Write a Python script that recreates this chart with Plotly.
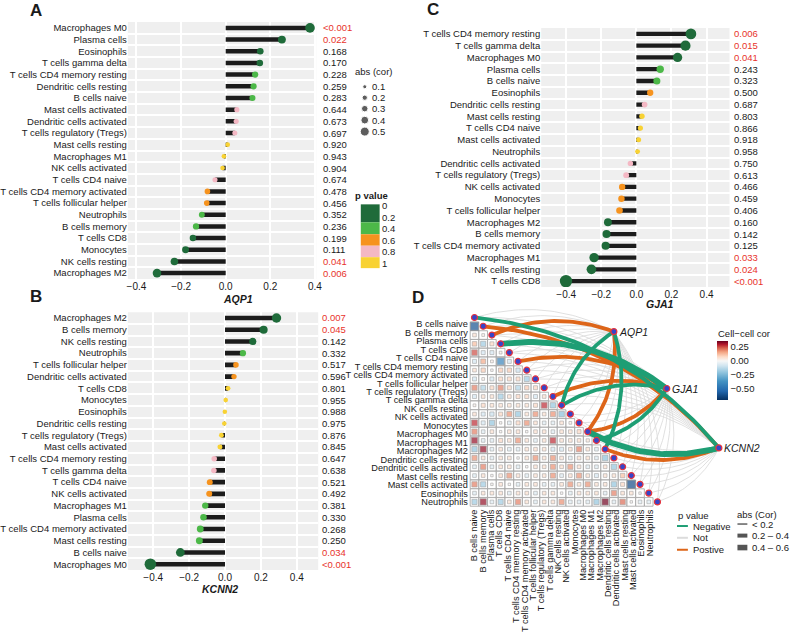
import plotly.graph_objects as go
import numpy as np

W, H = 794, 632

# ---------------- data ----------------
names_A = ["Macrophages M0", "Plasma cells", "Eosinophils", "T cells gamma delta",
           "T cells CD4 memory resting", "Dendritic cells resting", "B cells naive",
           "Mast cells activated", "Dendritic cells activated", "T cells regulatory (Tregs)",
           "Mast cells resting", "Macrophages M1", "NK cells activated", "T cells CD4 naive",
           "T cells CD4 memory activated", "T cells follicular helper", "Neutrophils",
           "B cells memory", "T cells CD8", "Monocytes", "NK cells resting", "Macrophages M2"]
cor_A = [0.378, 0.252, 0.155, 0.153, 0.132, 0.125, 0.120, 0.050, 0.047, 0.041, 0.009,
         -0.008, -0.014, -0.048, -0.082, -0.085, -0.107, -0.133, -0.147, -0.180, -0.230, -0.308]
p_A = ["<0.001", "0.022", "0.168", "0.170", "0.228", "0.259", "0.283", "0.644", "0.673",
       "0.697", "0.920", "0.943", "0.904", "0.674", "0.478", "0.456", "0.352", "0.236",
       "0.199", "0.111", "0.041", "0.006"]

names_B = ["Macrophages M2", "B cells memory", "NK cells resting", "Neutrophils",
           "T cells follicular helper", "Dendritic cells activated", "T cells CD8", "Monocytes",
           "Eosinophils", "Dendritic cells resting", "T cells regulatory (Tregs)",
           "Mast cells activated", "T cells CD4 memory resting", "T cells gamma delta",
           "T cells CD4 naive", "NK cells activated", "Macrophages M1", "Plasma cells",
           "T cells CD4 memory activated", "Mast cells resting", "B cells naive", "Macrophages M0"]
cor_B = [0.287, 0.215, 0.155, 0.100, 0.061, 0.050, 0.017, 0.004, -0.001, -0.004, -0.020,
         -0.028, -0.060, -0.062, -0.085, -0.088, -0.110, -0.120, -0.138, -0.143, -0.249, -0.416]
p_B = ["0.007", "0.045", "0.142", "0.332", "0.517", "0.596", "0.801", "0.955", "0.988",
       "0.975", "0.876", "0.845", "0.647", "0.638", "0.521", "0.492", "0.381", "0.330",
       "0.268", "0.250", "0.034", "<0.001"]

names_C = ["T cells CD4 memory resting", "T cells gamma delta", "Macrophages M0", "Plasma cells",
           "B cells naive", "Eosinophils", "Dendritic cells resting", "Mast cells resting",
           "T cells CD4 naive", "Mast cells activated", "Neutrophils", "Dendritic cells activated",
           "T cells regulatory (Tregs)", "NK cells activated", "Monocytes",
           "T cells follicular helper", "Macrophages M2", "B cells memory",
           "T cells CD4 memory activated", "Macrophages M1", "NK cells resting", "T cells CD8"]
cor_C = [0.311, 0.280, 0.235, 0.136, 0.117, 0.079, 0.047, 0.032, 0.023, 0.013, 0.007,
         -0.034, -0.058, -0.081, -0.085, -0.096, -0.162, -0.170, -0.175, -0.241, -0.256, -0.401]
p_C = ["0.006", "0.015", "0.041", "0.243", "0.323", "0.500", "0.687", "0.803", "0.866",
       "0.918", "0.958", "0.750", "0.613", "0.466", "0.459", "0.406", "0.160", "0.142",
       "0.125", "0.033", "0.024", "<0.001"]

cell_types = ["B cells naive", "B cells memory", "Plasma cells", "T cells CD8", "T cells CD4 naive",
              "T cells CD4 memory resting", "T cells CD4 memory activated",
              "T cells follicular helper", "T cells regulatory (Tregs)", "T cells gamma delta",
              "NK cells resting", "NK cells activated", "Monocytes", "Macrophages M0",
              "Macrophages M1", "Macrophages M2", "Dendritic cells resting",
              "Dendritic cells activated", "Mast cells resting", "Mast cells activated",
              "Eosinophils", "Neutrophils"]

# lower-triangle cell-cell correlation (row r has r+1 values)
cellcor_rows = [
    [-0.60],
    [0.06, 0.02],
    [0.12, -0.18, 0.08],
    [0.25, -0.08, -0.08, 0.02],
    [-0.08, 0.15, 0.02, -0.42, -0.08],
    [0.06, 0.10, 0.01, 0.10, 0.10, -0.10],
    [-0.08, 0.02, -0.08, 0.08, 0.08, 0.08, -0.18],
    [0.20, -0.15, 0.08, 0.20, 0.08, -0.15, 0.10, 0.08],
    [-0.08, 0.06, 0.06, -0.18, 0.06, 0.08, 0.08, -0.08, 0.06],
    [0.02, 0.08, 0.06, 0.06, 0.06, 0.06, 0.06, 0.08, 0.28, -0.20],
    [0.06, -0.08, -0.10, 0.08, 0.18, -0.20, 0.06, 0.18, 0.06, 0.18, -0.22],
    [0.28, -0.08, -0.20, 0.01, -0.06, 0.08, 0.18, 0.06, -0.06, -0.06, 0.06, 0.02],
    [0.20, -0.06, 0.06, 0.01, 0.06, 0.06, 0.01, 0.06, 0.06, -0.06, 0.06, 0.06, 0.08],
    [0.32, -0.06, -0.06, 0.08, 0.06, 0.18, 0.06, -0.06, 0.06, 0.28, 0.06, 0.06, 0.06, 0.04],
    [-0.20, 0.32, -0.06, 0.06, -0.06, -0.06, 0.06, 0.06, 0.06, -0.08, -0.08, 0.06, 0.20, 0.06, -0.06],
    [0.18, 0.06, -0.06, 0.06, 0.06, 0.01, 0.06, 0.18, 0.06, 0.18, 0.06, -0.06, 0.06, 0.06, -0.06, -0.22],
    [-0.06, 0.20, -0.06, 0.06, 0.06, -0.06, 0.01, 0.06, 0.06, 0.18, 0.06, 0.18, 0.06, -0.06, -0.06, 0.06, -0.20],
    [-0.06, 0.06, 0.01, 0.06, 0.18, 0.06, -0.06, 0.06, 0.06, 0.18, -0.06, 0.06, 0.18, 0.06, -0.08, 0.06, 0.06, 0.12],
    [0.20, -0.18, 0.01, 0.06, 0.01, -0.06, 0.06, 0.06, -0.06, -0.06, 0.06, 0.18, 0.06, 0.18, 0.06, 0.06, -0.20, 0.08, -0.62],
    [-0.06, 0.06, 0.06, 0.06, -0.06, 0.06, 0.06, -0.06, 0.06, 0.06, 0.01, -0.06, 0.06, 0.06, 0.06, -0.06, 0.20, 0.06, 0.06, 0.01],
    [-0.18, 0.32, -0.06, -0.18, 0.06, 0.20, 0.06, -0.06, 0.06, 0.06, 0.18, -0.06, -0.06, -0.06, -0.20, 0.35, -0.06, 0.22, 0.01, -0.06, -0.06],
]

genes = ["AQP1", "GJA1", "KCNN2"]

# ---------------- styling / layout constants ----------------
FONT = "Liberation Sans, Arial, Helvetica, sans-serif"
TXT = "#1a1a1a"
RED = "#E8332B"
P_COLS = ["#1F6B3A", "#4CB848", "#F6931E", "#F4B8C4", "#F8D233"]
GREEN_L, ORANGE_L, GREY_L = "#1E9E74", "#DD6519", "#DCDCDC"


def px(x):
    return x / W


def py(y):
    return 1 - y / H


def pnum(s):
    return 0.0005 if s.startswith("<") else float(s)


def pcol(p):
    return P_COLS[min(int(p / 0.2), 4)]


fig = go.Figure()
annotations = []
shapes = []

panels = [
    dict(names=names_A, cor=cor_A, p=p_A, ax="", x0=128, x1=318, zero=226.7, ppu=225.0,
         row0=28.0, sp=11.714, bar=4.5, s0=4.5, sk=13.5, pval_x=323, title="AQP1", tx=239, ty=300),
    dict(names=names_B, cor=cor_B, p=p_B, ax="2", x0=128, x1=320, zero=226.0, ppu=181.0,
         row0=319.0, sp=11.762, bar=4.6, s0=4.5, sk=17.0, pval_x=322, title="KCNN2", tx=220.5, ty=591),
    dict(names=names_C, cor=cor_C, p=p_C, ax="3", x0=545, x1=735, zero=641.0, ppu=177.0,
         row0=34.0, sp=11.81, bar=4.3, s0=4.8, sk=19.0, pval_x=738, title="GJA1", tx=665, ty=305),
]

for g in panels:
    n = len(g["names"])
    xa, ya = "x" + g["ax"], "y" + g["ax"]
    idx = list(range(n))
    bx, by = [], []
    for i, v in enumerate(g["cor"]):
        bx += [0, v, None]
        by += [i, i, None]
    fig.add_trace(go.Scatter(x=bx, y=by, mode="lines", xaxis=xa, yaxis=ya,
                             line=dict(color="#1c1c1c", width=g["bar"]),
                             hoverinfo="skip", showlegend=False))
    pn = [pnum(s) for s in g["p"]]
    fig.add_trace(go.Scatter(x=g["cor"], y=idx, mode="markers", xaxis=xa, yaxis=ya,
                             marker=dict(color=[pcol(p) for p in pn],
                                         size=[g["s0"] + g["sk"] * abs(v) for v in g["cor"]],
                                         line=dict(width=0), opacity=1),
                             showlegend=False))
    top = g["row0"] - 0.5 * g["sp"]
    bot = g["row0"] + (n - 0.5) * g["sp"]
    xr = [(g["x0"] - g["zero"]) / g["ppu"], (g["x1"] - g["zero"]) / g["ppu"]]
    xkey = "xaxis" + g["ax"]
    ykey = "yaxis" + g["ax"]
    fig.layout[xkey] = dict(domain=[px(g["x0"]), px(g["x1"])], range=xr, anchor=ya,
                            tickvals=[-0.4, -0.2, 0, 0.2, 0.4],
                            ticktext=["\u22120.4", "\u22120.2", "0.0", "0.2", "0.4"],
                            tickfont=dict(size=10, color=TXT, family=FONT),
                            showgrid=True, gridcolor="white", gridwidth=2,
                            zeroline=False, showline=False, ticks="")
    fig.layout[ykey] = dict(domain=[py(bot), py(top)], range=[n - 0.5, -0.5], anchor=xa,
                            tickvals=idx, ticktext=g["names"],
                            tickfont=dict(size=9.5, color=TXT, family=FONT),
                            showgrid=False, zeroline=False, showline=False, ticks="",
                            minor=dict(tickmode="linear", tick0=0.5, dtick=1, showgrid=True,
                                       gridcolor="white", gridwidth=1.5, ticks=""))
    shapes.append(dict(type="rect", xref=xa + " domain", yref=ya + " domain", x0=0, x1=1,
                       y0=0, y1=1, fillcolor="#EFEFEF", line=dict(width=0), layer="below"))
    for i, s in enumerate(g["p"]):
        annotations.append(dict(xref="paper", yref=ya, x=px(g["pval_x"]), y=i, text=s,
                                xanchor="left", yanchor="middle", showarrow=False,
                                font=dict(size=9.5, color=RED if pnum(s) < 0.05 else TXT,
                                          family=FONT)))
    annotations.append(dict(xref="paper", yref="paper", x=px(g["tx"]), y=py(g["ty"]),
                            text="<b><i>%s</i></b>" % g["title"], showarrow=False,
                            xanchor="center", yanchor="middle",
                            font=dict(size=10.5, color=TXT, family=FONT)))

# panel letters
for lab, (lx, ly) in {"A": (35, 11), "B": (35, 297), "C": (436, 10), "D": (421, 298)}.items():
    annotations.append(dict(xref="paper", yref="paper", x=px(lx), y=py(ly), text="<b>%s</b>" % lab,
                            showarrow=False, xanchor="center", yanchor="middle",
                            font=dict(size=17, color=TXT, family=FONT)))

# ---------------- panel A legends ----------------
annotations.append(dict(xref="paper", yref="paper", x=px(355), y=py(72), text="abs (cor)",
                        showarrow=False, xanchor="left", yanchor="middle",
                        font=dict(size=9.5, color=TXT, family=FONT)))
leg_sizes = [0.1, 0.2, 0.3, 0.4, 0.5]
leg_y = [87, 98, 109, 120.5, 132]
fig.add_trace(go.Scatter(x=[367] * 5, y=leg_y, xaxis="x5", yaxis="y5", mode="markers",
                         marker=dict(color="#1a1a1a", size=[4 + 12.5 * (v - 0.1) for v in leg_sizes]),
                         hoverinfo="skip", showlegend=False))
for v, yy in zip(leg_sizes, leg_y):
    annotations.append(dict(xref="paper", yref="paper", x=px(372.5), y=py(yy), text=str(v),
                            showarrow=False, xanchor="left", yanchor="middle",
                            font=dict(size=9.5, color=TXT, family=FONT)))
annotations.append(dict(xref="paper", yref="paper", x=px(355), y=py(196), text="<b>p value</b>",
                        showarrow=False, xanchor="left", yanchor="middle",
                        font=dict(size=9.5, color=TXT, family=FONT)))
step = 11.5
blk_edges = [205, 223, 235, 246.5, 258, 269]
for k, col in enumerate(P_COLS):
    shapes.append(dict(type="rect", xref="paper", yref="paper", x0=px(363), x1=px(382),
                       y0=py(blk_edges[k]), y1=py(blk_edges[k + 1]), fillcolor=col,
                       line=dict(width=0)))
for k, t in enumerate(["0", "0.2", "0.4", "0.6", "0.8", "1"]):
    annotations.append(dict(xref="paper", yref="paper", x=px(382.5), y=py(206.5 + k * step), text=t,
                            showarrow=False, xanchor="left", yanchor="middle",
                            font=dict(size=9.5, color=TXT, family=FONT)))

# pixel overlay axis for legend keys
fig.layout.xaxis5 = dict(domain=[0, 1], range=[0, W], visible=False, anchor="y5")
fig.layout.yaxis5 = dict(domain=[0, 1], range=[H, 0], visible=False, anchor="x5")

# ---------------- panel D ----------------
C0X, CSX, C0Y, CSY = 477.7, 8.79, 327.3, 8.81
dx0, dx1, dy0, dy1 = 472, 762, 305, 508.5
fig.layout.xaxis4 = dict(domain=[px(dx0), px(dx1)], range=[(dx0 - C0X) / CSX, (dx1 - C0X) / CSX],
                         anchor="y4", showgrid=False, zeroline=False, showline=False, ticks="",
                         tickvals=list(np.linspace(0, 20.1, 22)), ticktext=cell_types, tickangle=-90,
                         tickfont=dict(size=9.2, color=TXT, family=FONT))
fig.layout.yaxis4 = dict(domain=[py(dy1), py(dy0)], range=[(dy1 - C0Y) / CSY, (dy0 - C0Y) / CSY],
                         anchor="x4", showgrid=False, zeroline=False, showline=False, ticks="",
                         tickvals=list(np.linspace(-0.26, 20.0, 22)), ticktext=cell_types,
                         tickfont=dict(size=9.2, color=TXT, family=FONT))

cx, cy, cv = [], [], []
for r, row in enumerate(cellcor_rows):
    for c, v in enumerate(row):
        cx.append(c)
        cy.append(r)
        cv.append(v)
fig.add_trace(go.Scatter(x=cx, y=cy, mode="markers", xaxis="x4", yaxis="y4",
                         marker=dict(symbol="square", size=8.6, color="white",
                                     line=dict(color="#A0A0A0", width=0.8)),
                         hoverinfo="skip", showlegend=False))
CMIN, CMAX = -0.70, 0.357
zf = (0 - CMIN) / (CMAX - CMIN)
cscale = [[0.0, "#053061"], [0.15, "#2166AC"], [0.32, "#4393C3"], [0.47, "#92C5DE"],
          [0.58, "#D1E5F0"], [zf, "#F7F7F7"], [zf + 0.07, "#FDDBC7"], [zf + 0.15, "#F4A582"],
          [zf + 0.22, "#D6604D"], [zf + 0.28, "#B2182B"], [1.0, "#67001F"]]
fig.add_trace(go.Scatter(x=cx, y=cy, mode="markers", xaxis="x4", yaxis="y4",
                         marker=dict(symbol="square", size=[1.6 + 6.6 * np.sqrt(abs(v) / 0.62) for v in cv],
                                     color=cv, cmin=CMIN, cmax=CMAX, colorscale=cscale,
                                     line=dict(color="#808080", width=0.6),
                                     colorbar=dict(x=px(722.7), xanchor="left", y=py(341.7),
                                                   yanchor="top", len=59, lenmode="pixels",
                                                   thickness=11.3, thicknessmode="pixels",
                                                   outlinewidth=0, xpad=0, ypad=0, ticks="",
                                                   tickvals=[0.25, 0, -0.25, -0.5],
                                                   ticktext=["0.25", "0.00", "\u22120.25", "\u22120.50"],
                                                   tickfont=dict(size=9.5, color=TXT, family=FONT))),
                         hoverinfo="skip", showlegend=False))
annotations.append(dict(xref="paper", yref="paper", x=px(721), y=py(335), text="Cell\u2212cell cor",
                        showarrow=False, xanchor="left", yanchor="middle",
                        font=dict(size=9.5, color=TXT, family=FONT)))

# links gene -> cell node (curves bow upward for upper nodes, downward for lower nodes)
gene_pos = {"AQP1": (16.0, 0.61), "GJA1": (22.07, 7.09), "KCNN2": (28.05, 13.85)}
gene_data = {"AQP1": (names_A, cor_A, p_A), "GJA1": (names_C, cor_C, p_C), "KCNN2": (names_B, cor_B, p_B)}
CURV = 0.2
tt = np.linspace(0, 1, 40)
groups = {}
half = (len(cell_types) - 1) / 2
for gname in genes:
    nm, co, pv = gene_data[gname]
    gx, gy = gene_pos[gname]
    for k, ct in enumerate(cell_types):
        j = nm.index(ct)
        v, p = co[j], pnum(pv[j])
        nx, ny = k, k - 1
        ddx, ddy = gx - nx, gy - ny
        sgn = 1.0 if k < half else -1.0
        mx = (nx + gx) / 2 + sgn * CURV * ddy
        my = (ny + gy) / 2 - sgn * CURV * ddx
        bxs = (1 - tt) ** 2 * nx + 2 * (1 - tt) * tt * mx + tt ** 2 * gx
        bys = (1 - tt) ** 2 * ny + 2 * (1 - tt) * tt * my + tt ** 2 * gy
        col = (ORANGE_L if v > 0 else GREEN_L) if p < 0.05 else GREY_L
        a = abs(v)
        wd = 0.9 if a < 0.2 else (3.8 if a < 0.4 else 5.8)
        key = (col, wd)
        groups.setdefault(key, ([], []))
        groups[key][0].extend(list(bxs) + [None])
        groups[key][1].extend(list(bys) + [None])
for key in sorted(groups, key=lambda kk: (kk[0] != GREY_L, kk[1])):
    col, wd = key
    fig.add_trace(go.Scatter(x=groups[key][0], y=groups[key][1], mode="lines", xaxis="x4", yaxis="y4",
                             line=dict(color=col, width=wd), hoverinfo="skip", showlegend=False))

# nodes
fig.add_trace(go.Scatter(x=list(range(len(cell_types))), y=[k - 1 for k in range(len(cell_types))],
                         mode="markers", xaxis="x4", yaxis="y4",
                         marker=dict(color="#3545C8", size=6, line=dict(color="#E8333B", width=1.2)),
                         hoverinfo="skip", showlegend=False))
fig.add_trace(go.Scatter(x=[gene_pos[gn][0] for gn in genes], y=[gene_pos[gn][1] for gn in genes],
                         mode="markers", xaxis="x4", yaxis="y4",
                         marker=dict(color="#3545C8", size=6, line=dict(color="#E8333B", width=1.2)),
                         hoverinfo="skip", showlegend=False))
for gn in genes:
    annotations.append(dict(xref="x4", yref="y4", x=gene_pos[gn][0], y=gene_pos[gn][1],
                            text="<i>%s</i>" % gn, showarrow=False, xanchor="left", yanchor="middle",
                            xshift=3, font=dict(size=10.5, color=TXT, family=FONT)))

# D legends
annotations.append(dict(xref="paper", yref="paper", x=px(681), y=py(516.7), text="p value",
                        showarrow=False, xanchor="left", yanchor="middle",
                        font=dict(size=9.5, color=TXT, family=FONT)))
for lab, col, yy in [("Negative", GREEN_L, 527.7), ("Not", GREY_L, 539.5), ("Postive", ORANGE_L, 551.5)]:
    shapes.append(dict(type="line", xref="paper", yref="paper", x0=px(682), x1=px(693),
                       y0=py(yy), y1=py(yy), line=dict(color=col, width=2)))
    annotations.append(dict(xref="paper", yref="paper", x=px(696), y=py(yy), text=lab,
                            showarrow=False, xanchor="left", yanchor="middle",
                            font=dict(size=9.5, color=TXT, family=FONT)))
annotations.append(dict(xref="paper", yref="paper", x=px(741), y=py(515.7), text="abs (Cor)",
                        showarrow=False, xanchor="left", yanchor="middle",
                        font=dict(size=9.5, color=TXT, family=FONT)))
for lab, hh, yy in [("< 0.2", 1.4, 525.7), ("0.2 \u2013 0.4", 4.0, 537.3), ("0.4 \u2013 0.6", 5.6, 549.3)]:
    shapes.append(dict(type="rect", xref="paper", yref="paper", x0=px(743), x1=px(753),
                       y0=py(yy + hh / 2), y1=py(yy - hh / 2), fillcolor="#555555", line=dict(width=0)))
    annotations.append(dict(xref="paper", yref="paper", x=px(756), y=py(yy), text=lab,
                            showarrow=False, xanchor="left", yanchor="middle",
                            font=dict(size=9.5, color=TXT, family=FONT)))

fig.update_layout(width=W, height=H, autosize=False, margin=dict(l=0, r=0, t=0, b=0),
                  paper_bgcolor="white", plot_bgcolor="rgba(0,0,0,0)",
                  font=dict(family=FONT, color=TXT), showlegend=False,
                  annotations=annotations, shapes=shapes)
fig.write_html("out.html")
